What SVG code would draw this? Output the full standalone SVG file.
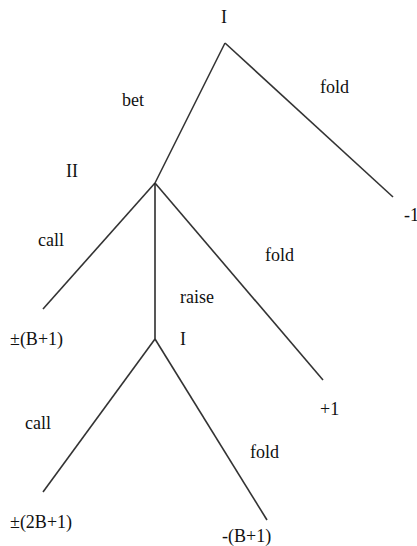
<svg xmlns="http://www.w3.org/2000/svg" width="417" height="546" viewBox="0 0 417 546">
<style>
text{font-family:"Liberation Serif","Times New Roman",serif;font-size:18px;fill:#111}
.e{stroke:#333;stroke-width:1.6;fill:none}
</style>
<rect width="417" height="546" fill="#fff"/>
<g id="connectors">
<line class="e" x1="225" y1="43" x2="155" y2="183"/>
<line class="e" x1="225" y1="43" x2="393" y2="197"/>
<line class="e" x1="155" y1="183" x2="43" y2="309"/>
<line class="e" x1="155" y1="183" x2="155" y2="339" style="stroke:#111;stroke-width:1.4"/>
<line class="e" x1="155" y1="183" x2="323" y2="380"/>
<line class="e" x1="155" y1="339" x2="43" y2="492"/>
<line class="e" x1="155" y1="339" x2="267" y2="520"/>
</g>
<g id="n-root"><text x="221" y="23">I</text></g>
<g id="l-bet"><text x="122" y="106">bet</text></g>
<g id="l-fold1"><text x="320" y="93">fold</text></g>
<g id="n-m1"><text x="404" y="221">-1</text></g>
<g id="n-II"><text x="66" y="177">II</text></g>
<g id="l-call1"><text x="38" y="246">call</text></g>
<g id="l-fold2"><text x="265" y="261">fold</text></g>
<g id="l-raise"><text x="180" y="303">raise</text></g>
<g id="n-pB1"><text x="10" y="345">±(B+1)</text></g>
<g id="n-I2"><text x="180" y="345">I</text></g>
<g id="n-p1"><text x="320" y="415">+1</text></g>
<g id="l-call2"><text x="25" y="429">call</text></g>
<g id="l-fold3"><text x="250" y="458">fold</text></g>
<g id="n-p2B1"><text x="10" y="528">±(2B+1)</text></g>
<g id="n-mB1"><text x="222" y="542">-(B+1)</text></g>
</svg>
